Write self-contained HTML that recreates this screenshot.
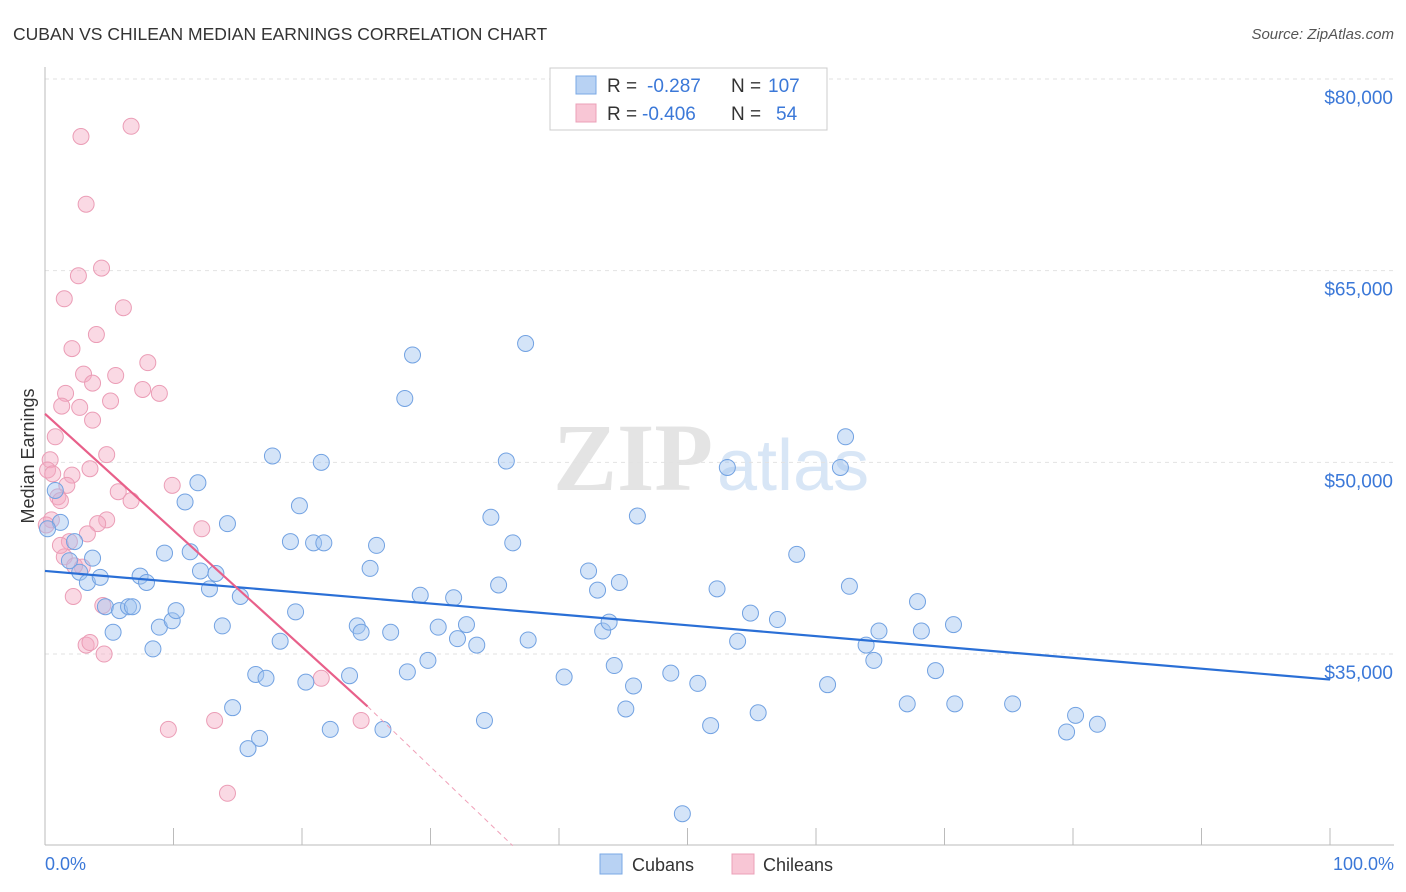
<!DOCTYPE html>
<html><head><meta charset="utf-8"><style>
body{margin:0;background:#fff;font-family:"Liberation Sans",sans-serif;}
svg{display:block}
</style></head><body>
<svg width="1406" height="892" viewBox="0 0 1406 892" xmlns="http://www.w3.org/2000/svg">
<text x="13" y="40" font-size="17.5" fill="#333">CUBAN VS CHILEAN MEDIAN EARNINGS CORRELATION CHART</text>
<text x="1394" y="39" font-size="15" fill="#555" font-style="italic" text-anchor="end">Source: ZipAtlas.com</text>
<g>
<text x="553" y="490" font-size="96" fill="#e4e4e4" font-family="Liberation Serif,serif" font-weight="bold">ZIP</text>
<text x="717" y="490" font-size="72" fill="#d8e6f6">atlas</text>
</g>
<g id="grid"></g>
<g id="axes"></g>
<text x="34" y="456" font-size="18" fill="#333" text-anchor="middle" transform="rotate(-90 34 456)">Median Earnings</text>
<text x="45" y="870" font-size="18" fill="#3b78d8">0.0%</text>
<text x="1394" y="870" font-size="18" fill="#3b78d8" text-anchor="end">100.0%</text>
<g id="pts"></g>
<g id="trends"></g>
<g>
<rect x="550" y="68" width="277" height="62" fill="#fff" stroke="#ccc"/>
<rect x="576" y="76" width="20" height="18" fill="#b8d2f3" stroke="#7aa8e4"/>
<text x="607" y="92" font-size="19" fill="#333">R = </text><text x="647" y="92" font-size="19" fill="#3b78d8">-0.287</text>
<text x="731" y="92" font-size="19" fill="#333">N = </text><text x="768" y="92" font-size="19" fill="#3b78d8">107</text>
<rect x="576" y="104" width="20" height="18" fill="#f8c6d5" stroke="#eba0b8"/>
<text x="607" y="120" font-size="19" fill="#333">R = </text><text x="642" y="120" font-size="19" fill="#3b78d8">-0.406</text>
<text x="731" y="120" font-size="19" fill="#333">N = </text><text x="776" y="120" font-size="19" fill="#3b78d8">54</text>
</g>
<g>
<rect x="600" y="854" width="22" height="20" fill="#b8d2f3" stroke="#7aa8e4"/>
<text x="632" y="871" font-size="18" fill="#333">Cubans</text></g>
<g>
<rect x="732" y="854" width="22" height="20" fill="#f8c6d5" stroke="#eba0b8"/>
<text x="763" y="871" font-size="18" fill="#333">Chileans</text></g>
</svg>
<script>
const yTicks=[35000,50000,65000,80000];
const yTickLabels=["$35,000","$50,000","$65,000","$80,000"];
const xTicks=[0,10,20,30,40,50,60,70,80,90,100];
const cubanX=[0.8,1.2,0.2,1.9,2.7,3.3,3.7,4.3,2.3,4.7,5.3,5.8,6.5,6.8,7.4,7.9,8.4,8.9,9.3,9.9,10.2,10.9,11.3,11.9,12.1,12.8,13.3,13.8,14.2,14.6,15.2,15.8,16.4,16.7,17.2,17.7,18.3,19.1,19.5,19.8,20.3,20.9,21.5,21.7,22.2,23.7,24.3,24.6,25.3,25.8,26.3,26.9,28.0,28.2,28.6,29.2,29.8,30.6,31.8,32.1,32.8,33.6,34.2,34.7,35.3,35.9,36.4,37.4,37.6,40.4,42.3,43.0,43.4,43.9,44.3,44.7,45.2,45.8,46.1,48.7,49.6,50.8,51.8,52.3,53.1,53.9,54.9,55.5,57.0,58.5,60.9,61.9,62.3,62.6,63.9,64.5,64.9,67.1,67.9,68.2,69.3,70.7,70.8,75.3,79.5,80.2,81.9];
const cubanY=[47.8,45.3,44.8,42.3,41.4,40.6,42.5,41.0,43.8,38.7,36.7,38.4,38.7,38.7,41.1,40.6,35.4,37.1,42.9,37.6,38.4,46.9,43.0,48.4,41.5,40.1,41.3,37.2,45.2,30.8,39.5,27.6,33.4,28.4,33.1,50.5,36.0,43.8,38.3,46.6,32.8,43.7,50.0,43.7,29.1,33.3,37.2,36.7,41.7,43.5,29.1,36.7,55.0,33.6,58.4,39.6,34.5,37.1,39.4,36.2,37.3,35.7,29.8,45.7,40.4,50.1,43.7,59.3,36.1,33.2,41.5,40.0,36.8,37.5,34.1,40.6,30.7,32.5,45.8,33.5,22.5,32.7,29.4,40.1,49.6,36.0,38.2,30.4,37.7,42.8,32.6,49.6,52.0,40.3,35.7,34.5,36.8,31.1,39.1,36.8,33.7,37.3,31.1,31.1,28.9,30.2,29.5];
const chileanX=[2.8,6.7,3.2,4.4,2.6,1.5,6.1,4.0,2.1,8.0,3.0,5.5,3.7,7.6,1.6,8.9,5.1,1.3,2.7,3.7,0.8,4.8,0.4,0.2,0.6,3.5,2.1,9.9,1.7,1.0,5.7,1.2,6.7,4.8,4.1,3.3,12.2,1.9,1.5,2.9,2.2,4.5,3.2,3.5,4.6,9.6,13.2,14.2,21.5,24.6,0.5,0.1,1.2,2.3];
const chileanY=[75.5,76.3,70.2,65.2,64.6,62.8,62.1,60.0,58.9,57.8,56.9,56.8,56.2,55.7,55.4,55.4,54.8,54.4,54.3,53.3,52.0,50.6,50.2,49.4,49.1,49.5,49.0,48.2,48.2,47.3,47.7,47.0,47.0,45.5,45.2,44.4,44.8,43.8,42.6,41.8,39.5,38.8,35.7,35.9,35.0,29.1,29.8,24.1,33.1,29.8,45.5,45.1,43.5,41.9];
const cubanTrend=[0,41.5,100,33.0];
const chileanTrend=[0,53.8,25.1,30.9];
const chileanTrendExt=[25.1,30.9,36.4,20.0];
const NS="http://www.w3.org/2000/svg";
function xs(p){return 45+p*12.85;}
function ys(k){return 79+(80-k)*12.778;}
function mk(tag,attrs,parent){const e=document.createElementNS(NS,tag);for(const k in attrs)e.setAttribute(k,attrs[k]);parent.appendChild(e);return e;}
const grid=document.getElementById('grid'),axes=document.getElementById('axes'),pts=document.getElementById('pts'),tr=document.getElementById('trends');
yTicks.forEach((v,i)=>{const y=ys(v/1000);
const l=mk('line',{x1:45,x2:1394,y1:y,y2:y,stroke:'#e2e2e2','stroke-dasharray':'4,4'},grid);


const t=mk('text',{x:1393,y:y+25,'font-size':19,fill:'#3b78d8','text-anchor':'end'},grid);
t.textContent=yTickLabels[i];

});
const ax=mk('line',{x1:45,x2:45,y1:67,y2:845,stroke:'#bbb'},axes);


const bx=mk('line',{x1:45,x2:1394,y1:845,y2:845,stroke:'#bbb'},axes);


xTicks.forEach(p=>{const t=mk('line',{x1:xs(p),x2:xs(p),y1:828,y2:845,stroke:'#bbb'},axes);

});
chileanX.forEach((x,i)=>{const c=mk('circle',{cx:xs(x),cy:ys(chileanY[i]),r:8,fill:'rgba(245,170,195,0.45)',stroke:'#eb9db6','stroke-width':1},pts);

});
cubanX.forEach((x,i)=>{const c=mk('circle',{cx:xs(x),cy:ys(cubanY[i]),r:8,fill:'rgba(160,195,240,0.45)',stroke:'#72a2e2','stroke-width':1},pts);

});
const l1=mk('line',{x1:xs(cubanTrend[0]),y1:ys(cubanTrend[1]),x2:xs(cubanTrend[2]),y2:ys(cubanTrend[3]),stroke:'#2a6fd6','stroke-width':2.2},tr);


const l2=mk('line',{x1:xs(chileanTrend[0]),y1:ys(chileanTrend[1]),x2:xs(chileanTrend[2]),y2:ys(chileanTrend[3]),stroke:'#e8608a','stroke-width':2.2},tr);


const l3=mk('line',{x1:xs(chileanTrendExt[0]),y1:ys(chileanTrendExt[1]),x2:xs(chileanTrendExt[2]),y2:ys(chileanTrendExt[3]),stroke:'#f0a0b8','stroke-width':1,'stroke-dasharray':'5,4'},tr);


</script>
</body></html>
